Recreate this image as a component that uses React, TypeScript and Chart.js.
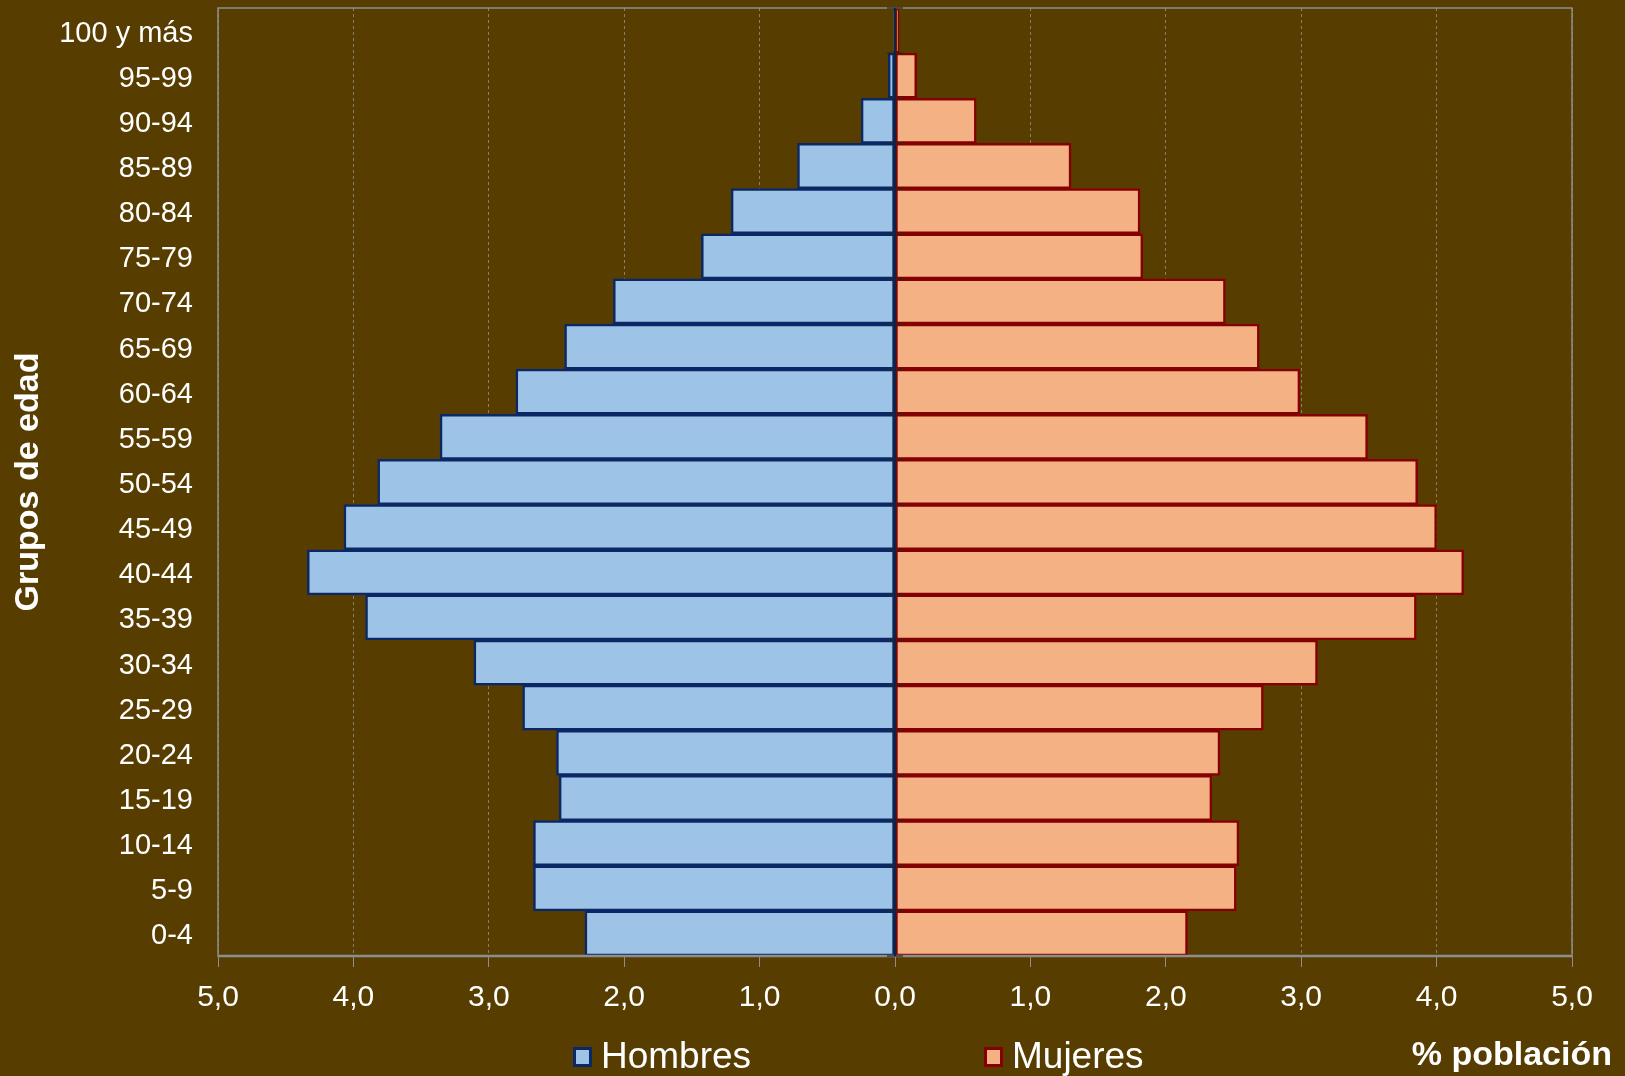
import React, { useEffect, useRef } from 'react';
import { Chart, registerables } from 'chart.js';

Chart.register(...registerables);

// ---- data (bottom to top) ----
const categories = [
  '0-4', '5-9', '10-14', '15-19', '20-24', '25-29', '30-34', '35-39', '40-44', '45-49',
  '50-54', '55-59', '60-64', '65-69', '70-74', '75-79', '80-84', '85-89', '90-94', '95-99', '100 y más',
];
const hombres = [
  2.29, 2.67, 2.67, 2.48, 2.50, 2.75, 3.11, 3.91, 4.34, 4.07,
  3.82, 3.36, 2.80, 2.44, 2.08, 1.43, 1.21, 0.72, 0.25, 0.05, 0.01,
];
const mujeres = [
  2.16, 2.52, 2.54, 2.34, 2.40, 2.72, 3.12, 3.85, 4.20, 4.00,
  3.86, 3.49, 2.99, 2.69, 2.44, 1.83, 1.81, 1.30, 0.60, 0.16, 0.03,
];
const seriesNames = ['Hombres', 'Mujeres'];
const xMin = -5;
const xMax = 5;
const xStep = 1;
const yAxisTitle = 'Grupos de edad';
const xAxisTitle = '% población';

// ---- styles ----
const BG = '#573E00';
const FONT = '"Liberation Sans", Arial, Helvetica, sans-serif';
const H_FILL = '#9DC3E6';
const H_BORDER = '#0C2766';
const M_FILL = '#F4B183';
const M_BORDER = '#850000';
const GRID = 'rgba(150,150,150,0.75)';
const FRAME = '#8E8E8E';

const decorPlugin = {
  id: 'decor',
  afterDatasetsDraw(chart: any) {
    const { ctx, chartArea: a, scales } = chart;
    const x = scales.x;
    const y = scales.y;
    ctx.save();
    // frame
    ctx.strokeStyle = FRAME;
    ctx.lineWidth = 1.5;
    ctx.setLineDash([]);
    ctx.strokeRect(a.left, a.top, a.right - a.left, a.bottom - a.top);
    // bottom axis line (thicker)
    ctx.lineWidth = 2.5;
    ctx.beginPath();
    ctx.moveTo(a.left, a.bottom);
    ctx.lineTo(a.right, a.bottom);
    ctx.stroke();
    // category boundary marks across the zero line
    const x0 = x.getPixelForValue(0);
    const band = y.getPixelForValue(0) - y.getPixelForValue(1);
    ctx.strokeStyle = 'rgba(40,40,40,0.8)';
    ctx.lineWidth = 1.5;
    const n = categories.length;
    for (let i = 0; i <= n; i++) {
      const yy = y.getPixelForValue(0) + band / 2 - i * band;
      ctx.beginPath();
      ctx.moveTo(x0 - 8, yy);
      ctx.lineTo(x0 + 8, yy);
      ctx.stroke();
    }
    // zero line
    ctx.strokeStyle = '#14213F';
    ctx.lineWidth = 2.2;
    ctx.beginPath();
    ctx.moveTo(x0, a.top);
    ctx.lineTo(x0, a.bottom);
    ctx.stroke();
    ctx.restore();
  },
  afterDraw(chart: any) {
    const { ctx } = chart;
    const ds = chart.data.datasets;
    ctx.save();
    const items = [
      { x: 573, ds: ds[0] },
      { x: 984, ds: ds[1] },
    ];
    items.forEach((it) => {
      ctx.fillStyle = it.ds.backgroundColor;
      ctx.fillRect(it.x, 1047, 19, 20);
      ctx.strokeStyle = it.ds.borderColor;
      ctx.lineWidth = 3;
      ctx.strokeRect(it.x + 1.5, 1048.5, 16, 17);
      ctx.fillStyle = '#FFFFFF';
      ctx.font = `37px ${FONT}`;
      ctx.textAlign = 'left';
      ctx.textBaseline = 'alphabetic';
      ctx.fillText(it.ds.label, it.x + 28, 1068);
    });
    ctx.font = `bold 34px ${FONT}`;
    ctx.textAlign = 'right';
    ctx.textBaseline = 'alphabetic';
    ctx.fillStyle = '#FFFFFF';
    ctx.fillText(xAxisTitle, 1612, 1065);
    ctx.restore();
  },
};

export default function App() {
  const ref = useRef<HTMLCanvasElement>(null);

  useEffect(() => {
    if (!ref.current) return;
    Chart.defaults.font.family = FONT;
    const chart = new Chart(ref.current, {
      type: 'bar',
      data: {
        labels: categories,
        datasets: [
          {
            label: seriesNames[0],
            data: hombres.map((v) => -v),
            backgroundColor: H_FILL,
            borderColor: H_BORDER,
            borderWidth: 2.5,
            borderSkipped: false,
            categoryPercentage: 1,
            barPercentage: 1,
          },
          {
            label: seriesNames[1],
            data: mujeres,
            backgroundColor: M_FILL,
            borderColor: M_BORDER,
            borderWidth: 2.5,
            borderSkipped: false,
            categoryPercentage: 1,
            barPercentage: 1,
          },
        ],
      },
      options: {
        indexAxis: 'y',
        animation: false,
        responsive: false,
        devicePixelRatio: 1,
        layout: { padding: { top: 8, right: 53, left: 0, bottom: 0 } },
        plugins: {
          legend: { display: false },
          tooltip: { enabled: false },
        },
        scales: {
          x: {
            type: 'linear',
            stacked: true,
            min: xMin,
            max: xMax,
            ticks: {
              stepSize: xStep,
              color: '#FFFFFF',
              font: { size: 30, family: FONT },
              padding: 13,
              maxRotation: 0,
              autoSkip: false,
              callback: (v: any) => Math.abs(Number(v)).toFixed(1).replace('.', ','),
            },
            grid: {
              color: GRID,
              lineWidth: 1,
              drawTicks: true,
              tickLength: 11,
              tickColor: FRAME,
              tickWidth: 1,
              tickBorderDash: [],
            },
            border: { display: false, dash: [3, 3] },
            afterFit: (s: any) => {
              s.height = 120;
            },
          },
          y: {
            type: 'category',
            stacked: true,
            reverse: true,
            grid: { display: false, drawTicks: false },
            border: { display: false },
            ticks: {
              color: '#FFFFFF',
              font: { size: 29, family: FONT },
              padding: 25,
              labelOffset: 3,
              autoSkip: false,
            },
            title: {
              display: true,
              text: yAxisTitle,
              color: '#FFFFFF',
              font: { size: 34, weight: 'bold', family: FONT },
              padding: { top: 8, bottom: 0 },
            },
            afterFit: (s: any) => {
              s.width = 218;
              s.paddingTop = 0;
              s.paddingBottom = 0;
            },
          },
        },
      } as any,
      plugins: [decorPlugin],
    });
    return () => chart.destroy();
  }, []);

  return (
    <div
      style={{
        position: 'absolute',
        left: 0,
        top: 0,
        width: 1625,
        height: 1076,
        background: BG,
        overflow: 'hidden',
      }}
    >
      <canvas ref={ref} width={1625} height={1076} style={{ display: 'block', width: 1625, height: 1076 }} />
    </div>
  );
}
